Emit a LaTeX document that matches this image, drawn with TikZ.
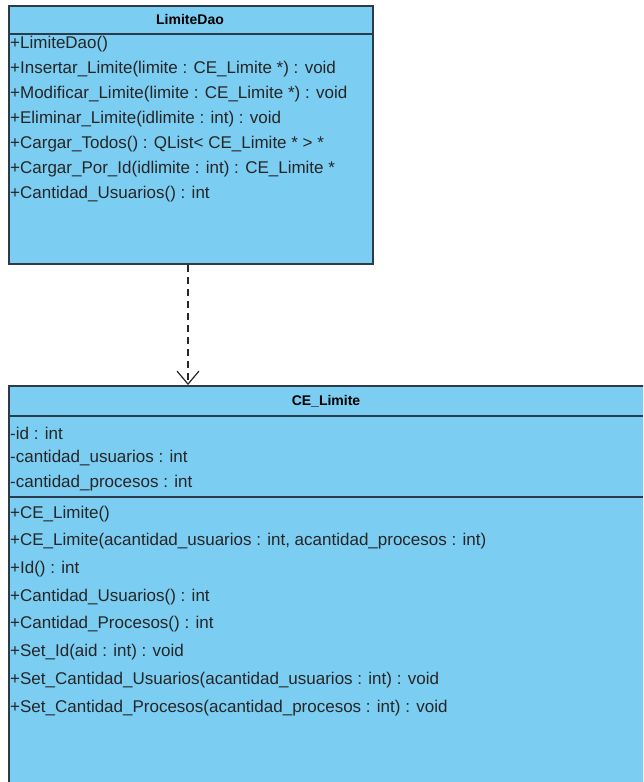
\documentclass[tikz,border=0pt]{standalone}
\usepackage{fontspec}
\setmainfont{Liberation Sans}
\usetikzlibrary{arrows.meta,positioning,calc}
\definecolor{ClassFill}{HTML}{7BCDF2}
\definecolor{ClassLine}{HTML}{2C3B4C}
\tikzset{
 classbox/.style={draw=ClassLine,fill=ClassFill,line width=1.6pt,inner sep=0pt,anchor=north west},
 title/.style={font=\fontsize{14}{17}\selectfont\bfseries,anchor=center,inner sep=0pt},
 member/.style={font=\fontsize{17}{20}\selectfont,anchor=west,inner sep=0pt,text=black!85},
 sep/.style={draw=ClassLine,line width=1.6pt},
 dep/.style={draw=black!85,line width=1.2pt,dash pattern=on 7pt off 5pt,-{Straight Barb[length=13pt,width=22pt,line width=1.2pt]}}
}
\begin{document}
\begin{tikzpicture}[x=1pt,y=-1pt]
\useasboundingbox (0,0) rectangle (643,782);
\begin{scope}
\clip (0,0) rectangle (643,782);
% class boxes
\node[classbox,minimum width=364pt,minimum height=258pt] (limiteDao) at (8,5) {};
\node[classbox,minimum width=660pt,minimum height=420pt] (ceLimite) at (8,385) {};
% compartment lines
\draw[sep] (8,34) -- (372,34);
\draw[sep] (8,416) -- (643,416);
\draw[sep] (8,497) -- (643,497);
\end{scope}
% titles
\node[title] (daoName) at (190,19) {LimiteDao};
\node[title] (ceName) at (326,401) {CE\_Limite};
% LimiteDao operations
\foreach \y/\txt [count=\i] in {
 44/+LimiteDao(),
 69/+Insertar\_Limite(limite : CE\_Limite *) : void,
 94/+Modificar\_Limite(limite : CE\_Limite *) : void,
 119/+Eliminar\_Limite(idlimite : int) : void,
 144/+Cargar\_Todos() : QList< CE\_Limite * > *,
 169/+Cargar\_Por\_Id(idlimite : int) : CE\_Limite *,
 194/+Cantidad\_Usuarios() : int}
 \node[member] (daoOp\i) at (10,\y) {\txt};
% CE_Limite attributes
\foreach \y/\txt [count=\i] in {
 433/-id : int,
 458/-cantidad\_usuarios : int,
 483/-cantidad\_procesos : int}
 \node[member] (ceAttr\i) at (10,\y) {\txt};
% CE_Limite operations
\foreach \y/\txt [count=\i] in {
 514/+CE\_Limite(),
 541/{+CE\_Limite(acantidad\_usuarios : int, acantidad\_procesos : int)},
 569/+Id() : int,
 597/+Cantidad\_Usuarios() : int,
 624/+Cantidad\_Procesos() : int,
 652/+Set\_Id(aid : int) : void,
 680/+Set\_Cantidad\_Usuarios(acantidad\_usuarios : int) : void,
 708/+Set\_Cantidad\_Procesos(acantidad\_procesos : int) : void}
 \node[member] (ceOp\i) at (10,\y) {\txt};
% dependency
\draw[dep] (limiteDao.south -| 188,0) -- (ceLimite.north -| 188,0);
\end{tikzpicture}
\end{document}
